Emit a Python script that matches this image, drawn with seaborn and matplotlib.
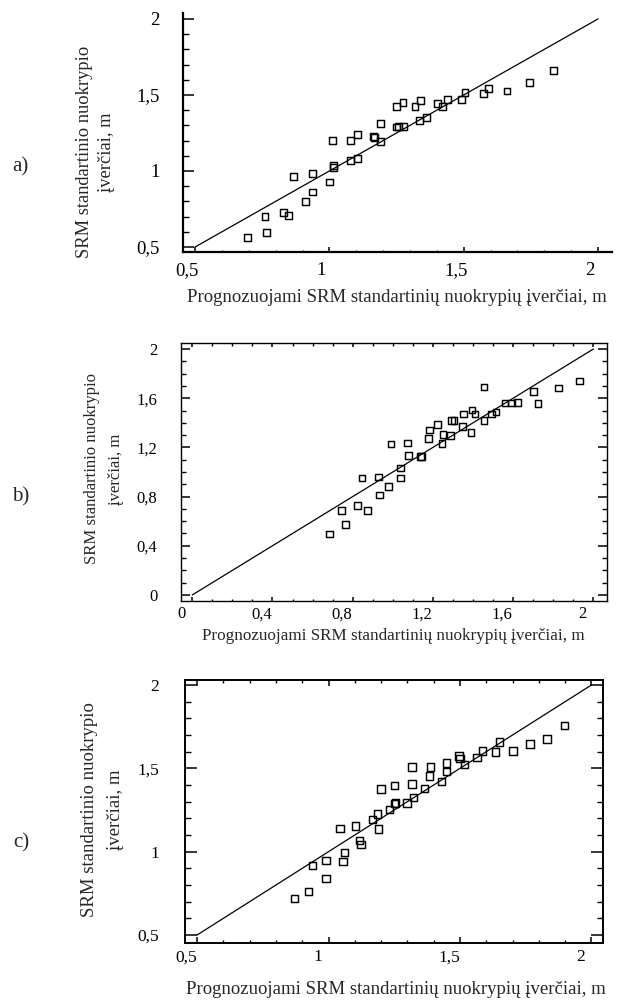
import matplotlib
matplotlib.use("Agg")
import matplotlib.pyplot as plt
import matplotlib.transforms as mtransforms
from matplotlib.ticker import MultipleLocator
import seaborn as sns

# ---------------- data ----------------
a_x = [0.695, 0.765, 0.760, 0.829, 0.848, 0.865, 0.911, 0.936, 0.936, 0.999,
       1.016, 1.016, 1.013, 1.080, 1.105, 1.080, 1.104, 1.165, 1.169, 1.190,
       1.190, 1.251, 1.274, 1.251, 1.256, 1.275, 1.319, 1.339, 1.335, 1.362,
       1.403, 1.421, 1.441, 1.492, 1.505, 1.575, 1.592, 1.661, 1.744, 1.833]
a_y = [0.562, 0.597, 0.698, 0.726, 0.706, 0.966, 0.799, 0.862, 0.983, 0.928,
       1.036, 1.021, 1.203, 1.067, 1.084, 1.203, 1.240, 1.229, 1.220, 1.196,
       1.313, 1.422, 1.451, 1.289, 1.293, 1.295, 1.422, 1.462, 1.332, 1.350,
       1.442, 1.422, 1.469, 1.471, 1.515, 1.510, 1.543, 1.526, 1.581, 1.662]

b_x = [0.683, 0.745, 0.766, 0.826, 0.873, 0.846, 0.929, 0.934, 0.978, 1.037,
       1.037, 0.991, 1.072, 1.077, 1.140, 1.145, 1.177, 1.182, 1.224, 1.245,
       1.250, 1.287, 1.292, 1.305, 1.347, 1.352, 1.390, 1.395, 1.410, 1.455,
       1.455, 1.493, 1.515, 1.559, 1.593, 1.623, 1.702, 1.724, 1.825, 1.930]
b_y = [0.496, 0.688, 0.572, 0.729, 0.688, 0.951, 0.959, 0.813, 0.883, 0.951,
       1.033, 1.228, 1.236, 1.133, 1.127, 1.127, 1.274, 1.341, 1.388, 1.233,
       1.306, 1.295, 1.420, 1.420, 1.371, 1.472, 1.320, 1.504, 1.472, 1.691,
       1.420, 1.472, 1.488, 1.561, 1.561, 1.566, 1.653, 1.558, 1.683, 1.740]

c_x = [0.871, 0.925, 0.940, 0.990, 0.990, 1.055, 1.060, 1.044, 1.103, 1.119,
       1.124, 1.166, 1.187, 1.190, 1.199, 1.232, 1.251, 1.255, 1.251, 1.298,
       1.317, 1.317, 1.322, 1.364, 1.385, 1.388, 1.430, 1.449, 1.449, 1.496,
       1.500, 1.518, 1.565, 1.585, 1.635, 1.651, 1.702, 1.766, 1.831, 1.897]
c_y = [0.718, 0.760, 0.916, 0.838, 0.948, 0.940, 0.996, 1.138, 1.154, 1.068,
       1.042, 1.194, 1.226, 1.136, 1.376, 1.254, 1.288, 1.292, 1.398, 1.292,
       1.406, 1.508, 1.326, 1.380, 1.454, 1.508, 1.422, 1.480, 1.532, 1.574,
       1.560, 1.522, 1.564, 1.604, 1.598, 1.658, 1.604, 1.646, 1.676, 1.756]

# y = x reference lines (ranges)
ref_a = [0.5, 2.0]
ref_b = [0.0, 2.0]
ref_c = [0.5, 2.0]

a_ticks = [0.5, 1.0, 1.5, 2.0]
a_ticklabels = ["0,5", "1", "1,5", "2"]
b_ticks = [0.0, 0.4, 0.8, 1.2, 1.6, 2.0]
b_ticklabels = ["0", "0,4", "0,8", "1,2", "1,6", "2"]
c_ticks = [0.5, 1.0, 1.5, 2.0]
c_ticklabels = ["0,5", "1", "1,5", "2"]

xlabel_text = "Prognozuojami SRM standartinių nuokrypių įverčiai, m"
ylabel_text = "SRM standartinio nuokrypio\nįverčiai, m"
panel_names = ["a)", "b)", "c)"]

# ---------------- style ----------------
sns.set_style("ticks")
plt.rcParams["font.family"] = ["Liberation Serif", "DejaVu Serif"]

W, H = 621, 1001
fig = plt.figure(figsize=(W / 100, H / 100), dpi=100)


def px_axes(l, t, r, b):
    return fig.add_axes([l / W, 1 - b / H, (r - l) / W, (b - t) / H])


def draw_panel(ax, xs, ys, ref, ms):
    sns.lineplot(x=ref, y=ref, ax=ax, color="black", linewidth=0.9)
    sns.scatterplot(x=xs, y=ys, ax=ax, marker="s", s=ms,
                    facecolor="none", edgecolor="black", linewidth=1.05,
                    legend=False, zorder=3)
    ax.set_xlabel("")
    ax.set_ylabel("")


def style_axes(ax, xlim, ylim, ticks, labels, full_box, spine_w,
               ymaj, ymin_, xmaj, xmin_, tick_fs, ypad, xpad, xshift_px):
    ax.set_xlim(*xlim)
    ax.set_ylim(*ylim)
    ax.set_xticks(ticks, labels)
    ax.set_yticks(ticks, labels)
    ax.xaxis.set_minor_locator(MultipleLocator(0.1))
    ax.yaxis.set_minor_locator(MultipleLocator(0.1))
    for s in ["left", "bottom", "top", "right"]:
        ax.spines[s].set_linewidth(spine_w)
        ax.spines[s].set_color("black")
    if not full_box:
        ax.spines["top"].set_visible(False)
        ax.spines["right"].set_visible(False)
    ax.tick_params(axis="both", which="both", direction="in", color="black",
                   top=full_box, right=full_box, labelsize=tick_fs,
                   labelcolor="black")
    ax.tick_params(axis="y", which="major", length=ymaj, width=1.1, pad=ypad)
    ax.tick_params(axis="y", which="minor", length=ymin_, width=1.0)
    ax.tick_params(axis="x", which="major", length=xmaj, width=1.1, pad=xpad)
    ax.tick_params(axis="x", which="minor", length=xmin_, width=1.0)
    off = mtransforms.ScaledTranslation(xshift_px / 100, 0, fig.dpi_scale_trans)
    for t in ax.xaxis.get_major_ticks():
        t.label1.set_transform(t.label1.get_transform() + off)
    ax.set_facecolor("white")


# panel a
ax_a = px_axes(183, 13, 612, 252)
draw_panel(ax_a, a_x, a_y, ref_a, 24)
style_axes(ax_a, (0.455, 2.052), (0.467, 2.039), a_ticks, a_ticklabels,
           False, 1.6, 8, 4.3, 3.6, 1.8, 13.5, 17, 7.5, -8)

# panel b
ax_b = px_axes(181, 343, 607, 601)
draw_panel(ax_b, b_x, b_y, ref_b, 24)
style_axes(ax_b, (-0.056, 2.068), (-0.049, 2.049), b_ticks, b_ticklabels,
           True, 1.0, 6.5, 3.6, 3.0, 1.8, 12.0, 17, 3.8, -11)

# panel c
ax_c = px_axes(185, 680, 603, 943)
draw_panel(ax_c, c_x, c_y, ref_c, 28)
style_axes(ax_c, (0.454, 2.044), (0.452, 2.03), c_ticks, c_ticklabels,
           True, 1.4, 8.4, 4.0, 4.5, 2.2, 12.5, 18.5, 4.5, -11)


def ftext(x, y, s, **kw):
    fig.text(x / W, 1 - y / H, s, **kw)


# axis titles
ftext(397, 297, xlabel_text, ha="center", va="center", fontsize=13.5)
ftext(393, 636, xlabel_text, ha="center", va="center", fontsize=12.3)
ftext(396, 989, xlabel_text, ha="center", va="center", fontsize=13.5)

ftext(95.5, 152, ylabel_text, ha="center", va="center", rotation=90,
      multialignment="center", fontsize=13.3, linespacing=1.44)
ftext(104, 469, ylabel_text, ha="center", va="center", rotation=90,
      multialignment="center", fontsize=12.1, linespacing=1.7)
ftext(102.5, 810, ylabel_text, ha="center", va="center", rotation=90,
      multialignment="center", fontsize=13.5, linespacing=1.65)

# panel letters
ftext(20, 167, panel_names[0], ha="center", va="center", fontsize=15)
ftext(21, 497, panel_names[1], ha="center", va="center", fontsize=15)
ftext(21, 843, panel_names[2], ha="center", va="center", fontsize=15)

fig.savefig("out.png", dpi=100, facecolor="white")
